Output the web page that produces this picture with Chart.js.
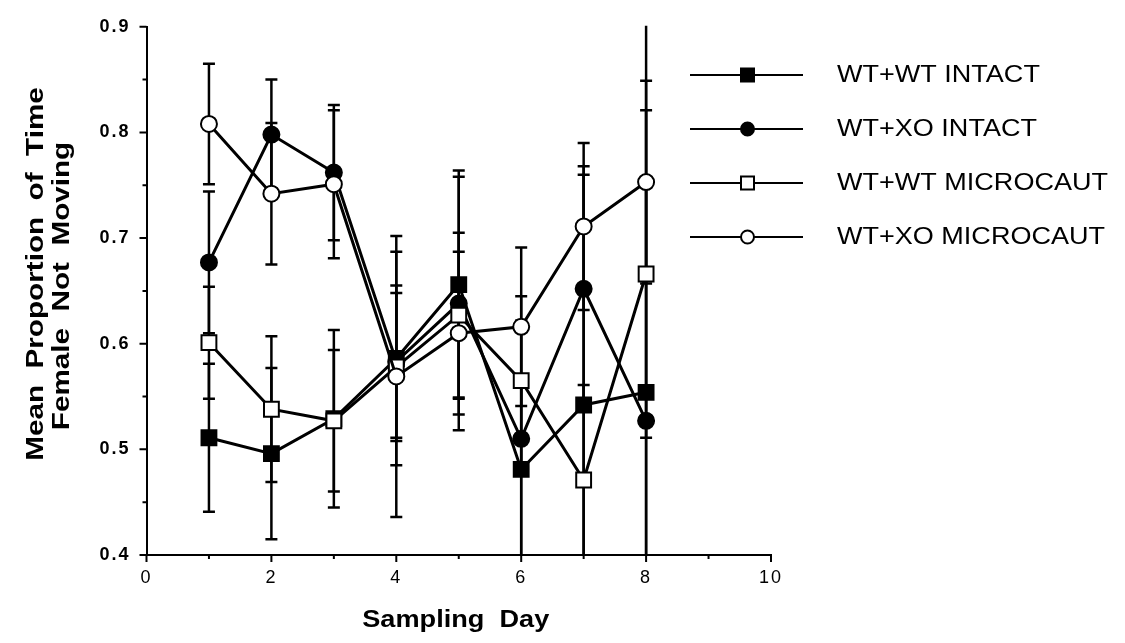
<!DOCTYPE html>
<html>
<head>
<meta charset="utf-8">
<script src="https://cdn.jsdelivr.net/npm/chart.js@4.4.1/dist/chart.umd.min.js"></script>
<style>
  html, body { margin: 0; padding: 0; background: #fff; }
  #wrap { width: 1125px; height: 643px; }
</style>
</head>
<body>
<div id="wrap"><canvas id="chart" width="1125" height="643"></canvas></div>
<script>
// sampling days
var days = [1, 2, 3, 4, 5, 6, 7, 8];

// means
var wtwtIntact = [0.511, 0.496, 0.529, 0.586, 0.656, 0.481, 0.542, 0.554];
var wtxoIntact = [0.677, 0.798, 0.762, 0.583, 0.638, 0.510, 0.652, 0.527];
var wtwtMicro  = [0.601, 0.538, 0.527, 0.578, 0.627, 0.565, 0.471, 0.666];
var wtxoMicro  = [0.808, 0.742, 0.751, 0.569, 0.610, 0.616, 0.711, 0.753];

// error bar half-lengths
var wtwtIntactErr = [0.070, 0.081, 0.084, 0.101, 0.108, 0.085, 0.218, 0.200];
var wtxoIntactErr = [0.067, 0.052, 0.064, 0.072, 0.120, 0.112, 0.116, 0.380];
var wtwtMicroErr  = [0.053, 0.069, 0.067, 0.070, 0.078, 0.080, 0.090, 0.155];
var wtxoMicroErr  = [0.057, 0.067, 0.070, 0.133, 0.077, 0.075, 0.079, 0.096];

var seriesLabels = ['WT+WT INTACT', 'WT+XO INTACT', 'WT+WT MICROCAUT', 'WT+XO MICROCAUT'];
var xTitle = 'Sampling  Day';
var yTitle = ['Mean  Proportion  of  Time', 'Female  Not  Moving'];

function pts(vals) {
  return days.map(function(d, i) { return { x: d, y: vals[i] }; });
}

function makeSet(label, vals, errs, style, filled, order) {
  return {
    label: label,
    data: pts(vals),
    errors: errs,
    borderColor: '#000',
    borderWidth: 3,
    pointStyle: style,
    pointRadius: style === 'rect' ? 10.5 : 8,
    pointBackgroundColor: filled ? '#000' : '#fff',
    pointBorderColor: '#000',
    pointBorderWidth: 2,
    tension: 0,
    order: order
  };
}

// wider tick lettering, like the old print
var tickSpacing = {
  id: 'tickSpacing',
  beforeDraw: function(chart) { chart.ctx.letterSpacing = '2px'; }
};

// draw an error bar for each point, under the markers
var errorBars = {
  id: 'errorBars',
  beforeDatasetsDraw: function(chart) {
    var ctx = chart.ctx, a = chart.chartArea;
    var xs = chart.scales.x, ys = chart.scales.y;
    ctx.letterSpacing = '0px';
    ctx.save();
    ctx.beginPath();
    ctx.rect(a.left, a.top - 1, a.right - a.left, a.bottom - a.top + 1);
    ctx.clip();
    ctx.strokeStyle = '#000';
    ctx.lineWidth = 2.5;
    chart.data.datasets.forEach(function(ds) {
      ds.data.forEach(function(p, i) {
        var e = ds.errors[i];
        var px = xs.getPixelForValue(p.x);
        var top = ys.getPixelForValue(p.y + e);
        var bot = ys.getPixelForValue(p.y - e);
        ctx.beginPath();
        ctx.moveTo(px, top); ctx.lineTo(px, bot);
        ctx.moveTo(px - 6, top); ctx.lineTo(px + 6, top);
        ctx.moveTo(px - 6, bot); ctx.lineTo(px + 6, bot);
        ctx.stroke();
      });
    });
    ctx.restore();
  }
};

function stretchText(ctx, text, x, y, font, sx, rot, align) {
  ctx.save();
  ctx.translate(x, y);
  if (rot) ctx.rotate(rot);
  ctx.scale(sx, 1);
  ctx.font = font;
  ctx.letterSpacing = '0px';
  ctx.fillStyle = '#000';
  ctx.textAlign = align || 'center';
  ctx.textBaseline = 'middle';
  ctx.fillText(text, 0, 0);
  ctx.restore();
}

// tick marks, axis titles and the legend
var decorations = {
  id: 'decorations',
  afterDraw: function(chart) {
    var ctx = chart.ctx, a = chart.chartArea;
    var xs = chart.scales.x, ys = chart.scales.y;
    ctx.save();
    ctx.strokeStyle = '#000';
    ctx.lineWidth = 2;
    ctx.beginPath();
    ys.ticks.forEach(function(t) {
      var py = ys.getPixelForValue(t.value);
      var major = Math.abs(t.value * 10 - Math.round(t.value * 10)) < 1e-6;
      ctx.moveTo(a.left - (major ? 7 : 4), py); ctx.lineTo(a.left, py);
    });
    xs.ticks.forEach(function(t) {
      var px = xs.getPixelForValue(t.value);
      var major = t.value % 2 === 0;
      ctx.moveTo(px, a.bottom); ctx.lineTo(px, a.bottom + (major ? 7 : 4));
    });
    ctx.stroke();
    ctx.restore();

    var titleFont = 'bold 23px "Liberation Sans", Arial, sans-serif';
    stretchText(ctx, xTitle, (a.left + a.right) / 2 - 3, 621, titleFont, 1.18);
    stretchText(ctx, yTitle[0], 37, 274, titleFont, 1.29, -Math.PI / 2);
    stretchText(ctx, yTitle[1], 63, 286, titleFont, 1.29, -Math.PI / 2);

    var rowY = [75, 129, 183, 237];
    chart.data.datasets.forEach(function(ds, i) {
      var y = rowY[i];
      ctx.save();
      ctx.strokeStyle = '#000';
      ctx.lineWidth = 2;
      ctx.beginPath();
      ctx.moveTo(690, y); ctx.lineTo(803, y);
      ctx.stroke();
      ctx.fillStyle = ds.pointBackgroundColor;
      ctx.beginPath();
      if (ds.pointStyle === 'rect') ctx.rect(741, y - 6.5, 13, 13);
      else ctx.arc(747.5, y, 6.5, 0, Math.PI * 2);
      ctx.fill();
      ctx.stroke();
      ctx.restore();
      stretchText(ctx, ds.label, 837, y + 1, '23.5px "Liberation Sans", Arial, sans-serif', 1.15, 0, 'left');
    });
  }
};

var chart = new Chart(document.getElementById('chart'), {
  type: 'line',
  data: {
    datasets: [
      makeSet(seriesLabels[0], wtwtIntact, wtwtIntactErr, 'rect', true, 3),
      makeSet(seriesLabels[1], wtxoIntact, wtxoIntactErr, 'circle', true, 2),
      makeSet(seriesLabels[2], wtwtMicro, wtwtMicroErr, 'rect', false, 1),
      makeSet(seriesLabels[3], wtxoMicro, wtxoMicroErr, 'circle', false, 0)
    ]
  },
  options: {
    responsive: false,
    animation: false,
    devicePixelRatio: 1,
    layout: { padding: { left: 90.5, top: 18.5, right: 354, bottom: 53 } },
    plugins: { legend: { display: false }, tooltip: { enabled: false } },
    scales: {
      x: {
        type: 'linear', min: 0, max: 10,
        afterFit: function(s) { s.height = 35; },
        grid: { display: false, drawTicks: false },
        border: { display: true, color: '#000', width: 2 },
        ticks: {
          stepSize: 1, autoSkip: false, maxRotation: 0, padding: 12, color: '#000',
          font: { family: '"Liberation Sans", Arial, sans-serif', size: 18 },
          callback: function(v) { return v % 2 === 0 ? String(v) : ''; }
        }
      },
      y: {
        min: 0.4, max: 0.9,
        afterFit: function(s) { s.width = 56; },
        grid: { display: false, drawTicks: false },
        border: { display: true, color: '#000', width: 2 },
        ticks: {
          stepSize: 0.05, autoSkip: false, padding: 16, color: '#000',
          font: { family: '"Liberation Sans", Arial, sans-serif', size: 18, weight: 'bold' },
          callback: function(v) {
            return Math.abs(v * 10 - Math.round(v * 10)) < 1e-6 ? v.toFixed(1) : '';
          }
        }
      }
    }
  },
  plugins: [tickSpacing, errorBars, decorations]
});
</script>
</body>
</html>
